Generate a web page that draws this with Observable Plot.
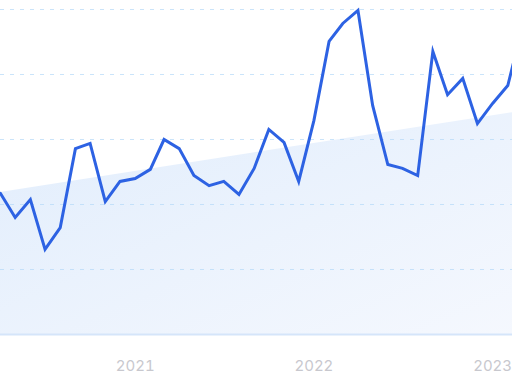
<!DOCTYPE html>
<html>
<head>
<meta charset="utf-8">
<script src="https://cdn.jsdelivr.net/npm/d3@7"></script>
<script src="https://cdn.jsdelivr.net/npm/@observablehq/plot@0.6"></script>
<style>
  html, body { margin: 0; padding: 0; background: #fff; overflow: hidden; }
  #chart svg { display: block; }
</style>
</head>
<body>
<div id="chart"></div>
<script>
const months = [
  "2020-04","2020-05","2020-06","2020-07","2020-08","2020-09","2020-10","2020-11","2020-12",
  "2021-01","2021-02","2021-03","2021-04","2021-05","2021-06","2021-07","2021-08","2021-09","2021-10","2021-11","2021-12",
  "2022-01","2022-02","2022-03","2022-04","2022-05","2022-06","2022-07","2022-08","2022-09","2022-10","2022-11","2022-12",
  "2023-01","2023-02","2023-03"
];
const values = [
  43.4, 36.0, 41.5, 26.2, 32.9, 57.2, 58.8, 40.9, 47.1,
  48.0, 50.8, 60.0, 57.2, 48.9, 45.8, 47.1, 43.1, 51.1, 63.1, 59.1, 47.1,
  65.8, 90.2, 95.7, 99.7, 70.5, 52.3, 51.1, 48.9, 87.1, 73.8, 78.8, 64.9,
  71.1, 76.6, 93.5
];
const trendMonths = ["2020-04", "2023-03"];
const trendValues = [43.7, 68.7];
const gridValues = [20, 40, 60, 80, 100];
const yearTicks = ["2021-01", "2022-01", "2023-01"];

const parse = d3.utcParse("%Y-%m");
const series = months.map((m, i) => ({date: parse(m), value: values[i]}));
const trend = trendMonths.map((m, i) => ({date: parse(m), value: trendValues[i]}));

const chart = Plot.plot({
  width: 512,
  height: 384,
  marginLeft: 0,
  marginRight: 0,
  marginTop: 9,
  marginBottom: 50,
  style: {background: "#fff", fontFamily: "Inter, sans-serif"},
  x: {type: "utc", domain: [parse("2020-04"), parse("2023-03")], range: [0, 521]},
  y: {domain: [0, 100], range: [334, 9], axis: null},
  marks: [
    Plot.areaY(trend, {x: "date", y: "value", fill: "url(#trendGrad)"}),
    Plot.gridY(gridValues, {stroke: "#b4d8f8", strokeOpacity: 0.7, strokeDasharray: "4,6", strokeWidth: 1.2}),
    Plot.ruleY([0], {stroke: "#d5e5fa", strokeWidth: 2}),
    Plot.lineY(series, {x: "date", y: "value", stroke: "#2d62e3", strokeWidth: 3, strokeLinejoin: "miter", strokeMiterlimit: 10}),
    Plot.axisX(yearTicks.map(parse), {tickSize: 0, tickPadding: 26, tickFormat: d3.utcFormat("%Y"), fontSize: 15, fill: "#c8c8ce", fontFamily: "Inter, sans-serif"})
  ]
});

const svg = d3.select(chart);
const defs = svg.insert("defs", ":first-child");
const grad = defs.append("linearGradient")
  .attr("id", "trendGrad")
  .attr("x1", 0).attr("y1", 0).attr("x2", 1).attr("y2", 1);
grad.append("stop").attr("offset", "0%").attr("stop-color", "#e1edfc");
grad.append("stop").attr("offset", "100%").attr("stop-color", "#f5f8fe");

document.getElementById("chart").appendChild(chart);
</script>
</body>
</html>
